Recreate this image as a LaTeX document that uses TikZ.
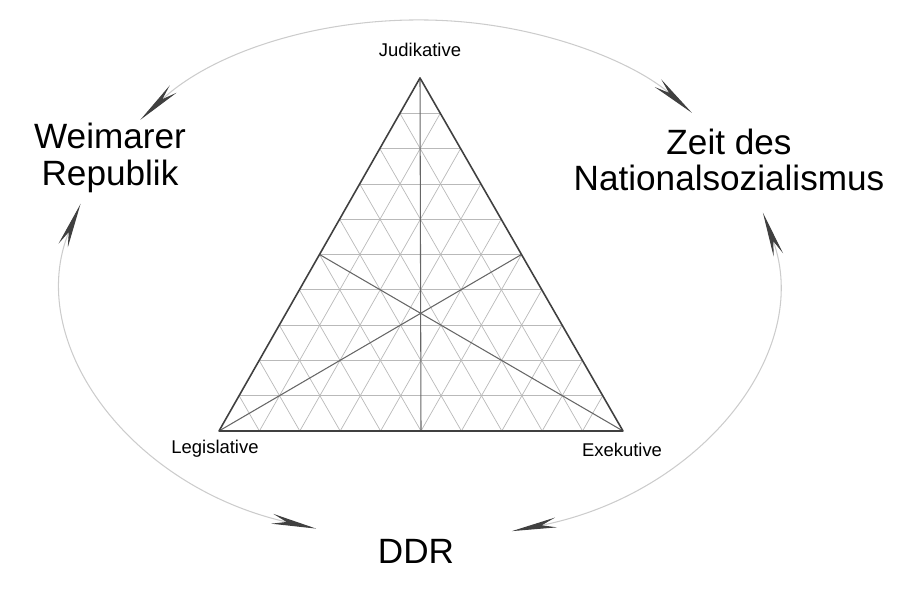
\documentclass[tikz,border=0pt]{standalone}
\usepackage{fontspec}
\setmainfont{Liberation Sans}
\usepackage{tikz}
\usetikzlibrary{arrows.meta, calc}

\begin{document}
\begin{tikzpicture}[
  x=0.2mm, y=0.2mm,
  epoch/.style={align=center, font=\fontsize{20}{21}\selectfont, inner sep=1pt},
  corner/.style={font=\fontsize{10.5}{12}\selectfont, inner sep=1pt},
  cycle/.style={{Stealth[length=9mm, width=2mm, black!75]}-{Stealth[length=9mm, width=2mm, black!75]}, gray!40, line width=0.6pt},
  gridline/.style={gray!55, line width=0.4pt},
  median/.style={black!60, line width=0.6pt}
]
\useasboundingbox (0,0) rectangle (904,596);

% Triangle corners
\coordinate (top) at (420,518);
\coordinate (left) at (219,165);
\coordinate (right) at (623,165);
\coordinate (ctr) at (420,316);

% Grid
\foreach \i in {1,...,9} {
  \draw[gridline] ($(top)!\i/10!(left)$) -- ($(top)!\i/10!(right)$);
  \draw[gridline] ($(right)!\i/10!(top)$) -- ($(right)!\i/10!(left)$);
  \draw[gridline] ($(left)!\i/10!(top)$) -- ($(left)!\i/10!(right)$);
}

% Medians
\draw[median] (top) -- ($(left)!0.5!(right)$);
\draw[median] (left) -- ($(top)!0.5!(right)$);
\draw[median] (right) -- ($(top)!0.5!(left)$);

\draw[black!75, line width=0.9pt, line join=round] (top) -- (left) -- (right) -- cycle;

\node[corner] (judikative) at (420,546) {Judikative};
\node[corner] (legislative) at (215,147) {Legislative};
\node[corner] (exekutive) at (622,146) {Exekutive};

% Epochs
\node[epoch] (weimar) at (110,438) {Weimarer\\Republik};
\node[epoch] (ns) at (729,436) {Zeit des\\Nationalsozialismus};
\node[epoch] (ddr) at (416,45) {DDR};

% Cycle
\coordinate (weimar-up) at ([shift={(142:355 and 260)}]ctr);
\coordinate (ns-down) at ([shift={(15:355 and 260)}]ctr);
\coordinate (ddr-left) at ([shift={(253:355 and 260)}]ctr);
\draw[cycle] (weimar-up) arc[start angle=142, end angle=40, x radius=355, y radius=260];
\draw[cycle] (ns-down) arc[start angle=15, end angle=-75, x radius=355, y radius=260];
\draw[cycle] (ddr-left) arc[start angle=253, end angle=163, x radius=355, y radius=260];

\end{tikzpicture}
\end{document}
